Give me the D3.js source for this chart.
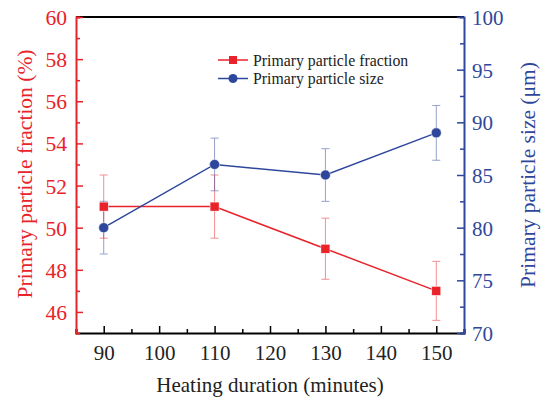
<!DOCTYPE html>
<html><head><meta charset="utf-8">
<script src="https://cdn.jsdelivr.net/npm/d3@7"></script>
<style>body{margin:0;background:#fff}svg{display:block}text{font-family:"Liberation Serif","Times New Roman",serif}</style>
</head><body>
<svg id="c" width="547" height="400"></svg>
<script>
const durations = [90, 110, 130, 150];
const fraction = [51, 51, 49, 47];
const fractionErr = [1.5, 1.5, 1.45, 1.4];
const size = [80, 86, 85, 89];
const sizeErr = [2.5, 2.5, 2.5, 2.6];
const xTicks = [90, 100, 110, 120, 130, 140, 150];
const yLeftTicks = [46, 48, 50, 52, 54, 56, 58, 60];
const yRightTicks = [70, 75, 80, 85, 90, 95, 100];
const seriesNames = ["Primary particle fraction", "Primary particle size"];

const RED = "#e8232a", BLUE = "#2e479c";
const L = 76, R = 464, T = 17, B = 333;
const svg = d3.select("#c");
const x = d3.scaleLinear().domain([85, 155]).range([L, R]);
const yL = d3.scaleLinear().domain([45, 60]).range([B, T]);
const yR = d3.scaleLinear().domain([70, 100]).range([B, T]);

// top border
svg.append("line").attr("x1", L).attr("x2", R).attr("y1", T).attr("y2", T).attr("stroke", "#000").attr("stroke-width", 2);

// bottom axis
const gx = svg.append("g").attr("transform", `translate(0,${B})`);
gx.call(d3.axisBottom(x).tickValues(d3.range(85, 156, 5)).tickSize(-4).tickFormat(""));
gx.call(g => g.selectAll(".tick line").attr("stroke-width", 1.5));
gx.selectAll(".tick").filter(d => d % 10 === 0).select("line").attr("y2", -7);
gx.select(".domain").attr("stroke-width", 2);
gx.selectAll(".tick").filter(d => xTicks.includes(d)).append("text")
  .attr("y", 27).attr("fill", "#222").attr("text-anchor", "middle").style("font-size", "21px").text(d => d);

// left axis
const gl = svg.append("g").attr("transform", `translate(${L},0)`);
gl.call(d3.axisLeft(yL).tickValues(d3.range(46, 61, 1)).tickSize(-4).tickFormat(""));
gl.selectAll("path,line").attr("stroke", RED);
gl.select(".domain").attr("stroke-width", 2);
gl.selectAll(".tick line").attr("stroke-width", 1.5);
gl.selectAll(".tick").filter(d => d % 2 === 0).select("line").attr("x2", 7);
gl.selectAll(".tick").filter(d => yLeftTicks.includes(d)).append("text")
  .attr("x", -9).attr("dy", "0.35em").attr("fill", RED).attr("text-anchor", "end").style("font-size", "21.5px").text(d => d);

// right axis
const gr = svg.append("g").attr("transform", `translate(${R},0)`);
gr.call(d3.axisRight(yR).tickValues(d3.range(70, 101, 2.5)).tickSize(-4).tickFormat(""));
gr.selectAll("path,line").attr("stroke", BLUE);
gr.select(".domain").attr("stroke-width", 2);
gr.selectAll(".tick line").attr("stroke-width", 1.5);
gr.selectAll(".tick").filter(d => d % 5 === 0).select("line").attr("x2", -7);
gr.selectAll(".tick").filter(d => yRightTicks.includes(d)).append("text")
  .attr("x", 8).attr("dy", "0.35em").attr("fill", BLUE).attr("text-anchor", "start").style("font-size", "21px").text(d => d);

// axis titles
svg.append("text").attr("x", (L + R) / 2 + 0).attr("y", 392).attr("text-anchor", "middle")
  .attr("fill", "#222").style("font-size", "21px").text("Heating duration (minutes)");
svg.append("text").attr("transform", `translate(24,${(T + B) / 2 - 1}) rotate(-90)`).attr("text-anchor", "middle")
  .attr("dy", "0.35em").attr("fill", RED).style("font-size", "21.5px").text("Primary particle fraction (%)");
svg.append("text").attr("transform", `translate(527,${(T + B) / 2}) rotate(-90)`).attr("text-anchor", "middle")
  .attr("dy", "0.35em").attr("fill", BLUE).style("font-size", "21.5px").text("Primary particle size (μm)");

// error bars
function errBars(vals, errs, y, col) {
  const g = svg.append("g").attr("stroke", col).attr("stroke-width", 1).attr("opacity", 0.5);
  durations.forEach((d, i) => {
    const cx = x(d), y1 = y(vals[i] + errs[i]), y2 = y(vals[i] - errs[i]);
    g.append("line").attr("x1", cx).attr("x2", cx).attr("y1", y1).attr("y2", y2);
    g.append("line").attr("x1", cx - 4).attr("x2", cx + 4).attr("y1", y1).attr("y2", y1);
    g.append("line").attr("x1", cx - 4).attr("x2", cx + 4).attr("y1", y2).attr("y2", y2);
  });
}
errBars(fraction, fractionErr, yL, RED);
errBars(size, sizeErr, yR, BLUE);

// lines
const lineL = d3.line().x((d, i) => x(durations[i])).y(d => yL(d));
const lineR = d3.line().x((d, i) => x(durations[i])).y(d => yR(d));
svg.append("path").datum(fraction).attr("d", lineL).attr("fill", "none").attr("stroke", RED).attr("stroke-width", 1.5);
svg.append("path").datum(size).attr("d", lineR).attr("fill", "none").attr("stroke", BLUE).attr("stroke-width", 1.5);

// markers
svg.selectAll(".sq").data(fraction).enter().append("rect")
  .attr("x", (d, i) => x(durations[i]) - 4.5).attr("y", d => yL(d) - 4.5)
  .attr("width", 9).attr("height", 9).attr("fill", RED).attr("stroke", "#fff").attr("stroke-width", 0.5);
svg.selectAll(".ci").data(size).enter().append("circle")
  .attr("cx", (d, i) => x(durations[i])).attr("cy", d => yR(d)).attr("r", 5)
  .attr("fill", BLUE).attr("stroke", "#fff").attr("stroke-width", 0.5);

// legend
const lg = svg.append("g");
[[RED, "rect"], [BLUE, "circle"]].forEach(([col, shape], i) => {
  const yy = 60 + i * 18.5;
  lg.append("line").attr("x1", 218).attr("x2", 248).attr("y1", yy).attr("y2", yy).attr("stroke", col).attr("stroke-width", 1.5);
  if (shape === "rect") lg.append("rect").attr("x", 229).attr("y", yy - 4).attr("width", 8).attr("height", 8).attr("fill", col);
  else lg.append("circle").attr("cx", 233).attr("cy", yy).attr("r", 4.5).attr("fill", col);
  lg.append("text").attr("x", 253).attr("y", yy).attr("dy", "0.35em").attr("fill", "#222").style("font-size", "15.8px").text(seriesNames[i]);
});
</script>
</body></html>
